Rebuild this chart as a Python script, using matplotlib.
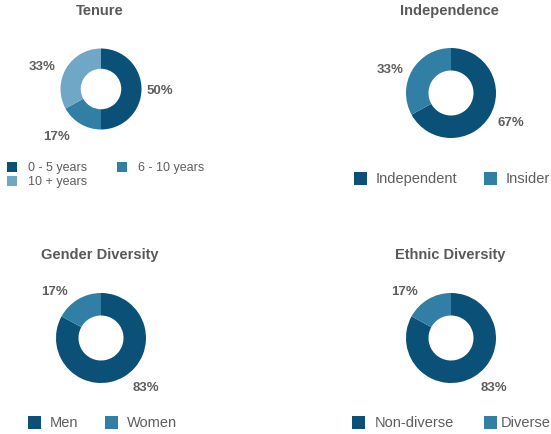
import matplotlib
matplotlib.use("Agg")
import matplotlib.pyplot as plt
from matplotlib.patches import Rectangle

plt.rcParams['font.family'] = ['Liberation Sans', 'DejaVu Sans']

W, H = 551, 435

# ---- data ----
tenure_labels = ["0 - 5 years", "6 - 10 years", "10 + years"]
tenure_values = [50, 17, 33]
indep_labels = ["Independent", "Insider"]
indep_values = [67, 33]
gender_labels = ["Men", "Women"]
gender_values = [83, 17]
ethnic_labels = ["Non-diverse", "Diverse"]
ethnic_values = [83, 17]

DARK = "#0A5077"
MID = "#317FA5"
LIGHT = "#70A6C6"
TITLE_C = "#595959"
TEXT_C = "#5E5E5E"

fig = plt.figure(figsize=(W / 100, H / 100), dpi=100)
ax = fig.add_axes([0, 0, 1, 1])


def Y(py):
    return H - py


panels = [
    dict(title="Tenure", labels=tenure_labels, values=tenure_values,
         colors=[DARK, MID, LIGHT], center=(101, 90), r=40.5, title_xy=(100, 11),
         pct_xy=[(160, 91), (57, 137), (42, 67)], pct_size=9.5,
         legend=[(7, 168, 28), (117, 168, 138), (7, 182, 28)], sq=10, leg_size=9),
    dict(title="Independence", labels=indep_labels, values=indep_values,
         colors=[DARK, MID], center=(451, 94), r=45, title_xy=(449, 11),
         pct_xy=[(511, 123), (390, 70)], pct_size=9.5,
         legend=[(354, 179, 376), (484, 179, 506)], sq=13, leg_size=10.5),
    dict(title="Gender Diversity", labels=gender_labels, values=gender_values,
         colors=[DARK, MID], center=(101, 339), r=45, title_xy=(100, 255),
         pct_xy=[(146, 388), (55, 292)], pct_size=9.5,
         legend=[(28, 423, 50), (105, 423, 127)], sq=13, leg_size=10.5),
    dict(title="Ethnic Diversity", labels=ethnic_labels, values=ethnic_values,
         colors=[DARK, MID], center=(451, 339), r=45, title_xy=(450, 255),
         pct_xy=[(494, 388), (404, 292)], pct_size=9.5,
         legend=[(352, 423, 375), (484, 423, 501)], sq=13, leg_size=10.5),
]

for p in panels:
    cx, cy = p["center"]
    r = p["r"]
    ax.pie(p["values"], colors=p["colors"], startangle=90, counterclock=False,
           center=(cx, Y(cy)), radius=r, frame=True,
           wedgeprops=dict(width=r * 0.5, linewidth=0))
    tx, ty = p["title_xy"]
    ax.text(tx, Y(ty), p["title"], ha="center", va="center", fontsize=10.5,
            fontweight="bold", color=TITLE_C)
    for v, (px, py) in zip(p["values"], p["pct_xy"]):
        ax.text(px, Y(py), f"{v}%", ha="center", va="center",
                fontsize=p["pct_size"], fontweight="bold", color=TEXT_C)
    s = p["sq"]
    for lab, col, (sx, sy, lx) in zip(p["labels"], p["colors"], p["legend"]):
        ax.add_patch(Rectangle((sx, Y(sy) - s / 2), s, s, facecolor=col,
                               edgecolor="none"))
        ax.text(lx, Y(sy), lab, ha="left", va="center", fontsize=p["leg_size"],
                color=TEXT_C)

ax.set_xlim(0, W)
ax.set_ylim(0, H)
ax.set_aspect("auto")
ax.axis("off")

fig.savefig("out.png", dpi=100)
